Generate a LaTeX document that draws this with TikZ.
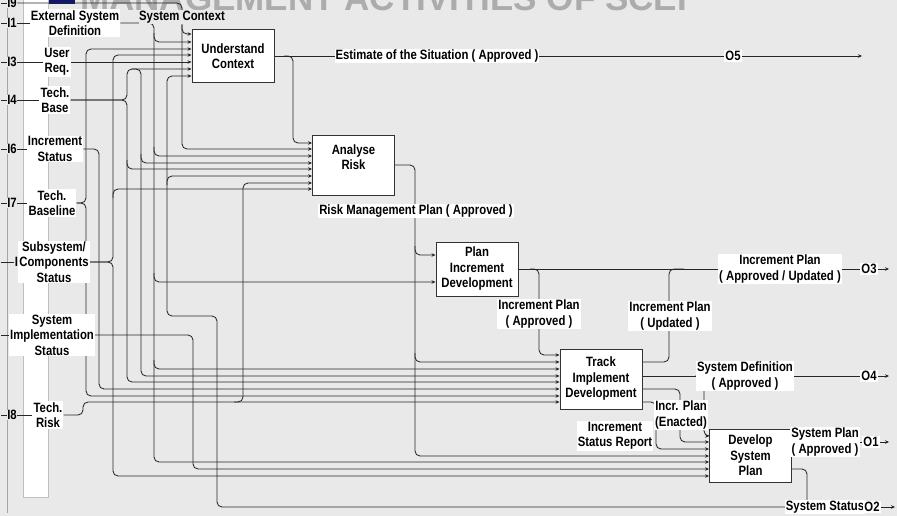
\documentclass[tikz,border=0pt]{standalone}
\usepackage{fontspec}
\setmainfont{Liberation Sans}[FakeStretch=0.84]
\newfontfamily\headfont{Liberation Sans}
\usetikzlibrary{arrows.meta, positioning, calc}
\definecolor{slideGris}{RGB}{233,233,233}
\definecolor{tituloGris}{RGB}{172,172,172}
\definecolor{tituloAzul}{RGB}{16,24,110}
\pgfdeclarelayer{fondo}
\pgfdeclarelayer{lineas}
\pgfsetlayers{fondo,lineas,main}

\begin{document}
\begin{tikzpicture}[x=1pt, y=-1pt,
        font=\bfseries\fontsize{13.5}{15.5}\selectfont,
        proc/.style={rectangle, draw=black!80, fill=white, line width=0.9pt, minimum width=82pt, align=center, inner sep=1pt},
        txt/.style={align=center, inner sep=1pt},
        etiq/.style={fill=white, align=center, inner sep=1pt},
        num/.style={fill=slideGris, inner sep=0.5pt},
        flujo/.style={draw=black!85, line width=0.85pt, rounded corners=5pt},
        flecha/.style={flujo, -{Stealth[length=4pt, width=3.5pt]}}]
    \useasboundingbox (0,0) rectangle (897,516);
    \begin{pgfonlayer}{fondo}
        \fill[slideGris] (0,0) rectangle (897,516);
        \node[anchor=base west, inner sep=0, text=tituloGris, font=\headfont\bfseries\fontsize{35}{35}\selectfont] (titulo) at (80,11) {MANAGEMENT ACTIVITIES OF SCEI};
        \fill[tituloAzul] (47,0) rectangle (75,4);
        \draw[gray!70, line width=1pt] (7,0) -- (7,513);
        \filldraw[fill=white, draw=gray!50] (23,-2) rectangle (48,497);
    \end{pgfonlayer}

    \node[num] (n9) at (12,3) {I9};
    \node[num] (n1) at (12,23) {I1};
    \node[num] (n3) at (12,62) {I3};
    \node[num] (n4) at (12,100) {I4};
    \node[num] (n6) at (12,149) {I6};
    \node[num] (n7) at (12,203) {I7};
    \node[num] (n5) at (19.5,262) {I5};
    \node[num] (n8) at (12,415) {I8};

    \node[etiq] (ext) at (75,23) {External System\\Definition};
    \node[etiq] (usr) at (57,62) {User\\Req.};
    \node[etiq] (tb) at (55,100) {Tech.\\Base};
    \node[etiq] (incs) at (55,149) {Increment\\Status};
    \node[etiq] (tbl) at (52,203) {Tech.\\Baseline};
    \node[etiq] (sub) at (54,262) {Subsystem/\\Components\\Status};
    \node[etiq] (sis) at (52,335) {System\\Implementation\\Status};
    \node[etiq] (tr) at (48,415) {Tech.\\Risk};
    \node[fill=slideGris, inner sep=0.5pt] (sctx) at (182,17) {System Context};

    \node[proc, minimum height=53pt] (uc) at (233,56) {Understand\\Context};
    \node[proc, minimum height=60pt] (ar) at (353.5,165) {};
    \node[txt, below=8.5pt of ar.north] (artxt) {Analyse\\Risk};
    \node[proc, minimum height=54pt] (pid) at (477,269) {Plan\\Increment\\Development};
    \node[proc, minimum height=60pt] (tid) at (601,379) {Track\\Implement\\Development};
    \node[proc, minimum height=53pt] (dsp) at (750.5,455.5) {Develop\\System\\Plan};

    \node[etiq] (est) at (437,56) {Estimate of the Situation ( Approved )};
    \node[etiq] (o5) at (733,56) {O5};
    \node[etiq] (rmp) at (416,211) {Risk Management Plan ( Approved )};
    \node[etiq] (ipa) at (539,314) {Increment Plan\\( Approved )};
    \node[etiq] (ipu) at (670,316) {Increment Plan\\( Updated )};
    \node[etiq] (ipau) at (780,269) {Increment Plan\\( Approved / Updated )};
    \node[etiq] (o3) at (869,269) {O3};
    \node[etiq] (sdef) at (745,376) {System Definition\\( Approved )};
    \node[etiq] (o4) at (869,376) {O4};
    \node[etiq] (ipe) at (681,415) {Incr. Plan\\(Enacted)};
    \node[etiq] (isr) at (615,436) {Increment\\Status Report};
    \node[etiq] (spa) at (825,442) {System Plan\\( Approved )};
    \node[etiq] (o1) at (871,442) {O1};
    \node[etiq] (ss) at (825,507) {System Status};
    \node[etiq] (o2) at (872,507) {O2};

    \foreach \k/\yy in {9/3,1/23,3/62,4/100,6/149,7/203,5/262,2/335,8/415}
        \coordinate (e\k) at (1,\yy);
    \foreach \k/\yy in {1/34,2/42,3/49,4/55,5/62,6/69,7/76}
        \coordinate (uc\k) at (uc.west |- 0,\yy);
    \foreach \k/\yy in {1/143,2/149,3/156,4/163,5/169,6/176,7/183,8/189}
        \coordinate (ar\k) at (ar.west |- 0,\yy);
    \foreach \k/\yy in {1/255,2/282}
        \coordinate (pid\k) at (pid.west |- 0,\yy);
    \foreach \k/\yy in {1/355,2/362,3/369,4/376,5/382,6/389,7/396,8/402}
        \coordinate (tid\k) at (tid.west |- 0,\yy);
    \foreach \k/\yy in {1/436,2/442,3/449,4/456,5/462,6/469,7/476}
        \coordinate (dsp\k) at (dsp.west |- 0,\yy);
    \foreach \k/\yy in {1/362,2/376,3/389,4/402}
        \coordinate (tido\k) at (tid.east |- 0,\yy);
    \coordinate (dspo1) at (dsp.east |- 0,442);
    \coordinate (dspo2) at (dsp.east |- 0,469);

    \coordinate (t9) at (182,0);
    \coordinate (t1) at (154,0);
    \coordinate (t4) at (127,0);
    \coordinate (t4b) at (141,0);
    \coordinate (t6) at (99,0);
    \coordinate (t7) at (86,0);
    \coordinate (t5) at (113,0);
    \coordinate (t2) at (193,0);
    \coordinate (t8) at (83,0);
    \coordinate (t8b) at (243,0);
    \coordinate (tl) at (167,0);
    \coordinate (ts) at (217,316);
    \coordinate (t0) at (293,0);
    \coordinate (tar) at (415,0);
    \coordinate (tpid) at (539,0);
    \coordinate (tsd) at (704,0);
    \coordinate (tenc) at (680,0);
    \coordinate (tisr) at (656,0);
    \coordinate (jo3) at (669,269);
    \coordinate (jo3r) at (684,269);
    \coordinate (ssj) at (807,508);
    \coordinate (o5f) at (862,56);
    \coordinate (o3f) at (889,269);
    \coordinate (o4f) at (889,376);
    \coordinate (o1f) at (889,442);
    \coordinate (o2f) at (895,507);

    \begin{pgfonlayer}{lineas}
        \draw[flujo] (e9) -- (n9);
        \draw[flecha] (n9.east) -| (t9 |- ar2) -- (ar2);
        \draw[flecha] ($(t9 |- uc1)+(0,-9)$) |- (uc1);
        \draw[flujo] (e1) -- (n1) -- (ext);
        \draw[flecha] (ext.east) -| (t1 |- dsp5) -- (dsp5);
        \foreach \p in {uc2,ar3,pid2,tid3} \draw[flecha] ($(t1 |- \p)+(0,-9)$) |- (\p);
        \draw[flujo] (e3) -- (n3) -- (usr);
        \draw[flecha] (usr) -- (uc5);
        \draw[flujo] (e4) -- (n4) -- (tb);
        \draw[flecha] (tb.east) -| (t4 |- uc6) -- (uc6);
        \draw[flecha] (tb.east) -| (t4 |- tid5) -- (tid5);
        \draw[flecha] ($(t4 |- ar5)+(0,-9)$) |- (ar5);
        \draw[flecha] ($(t4b |- uc6)+(-9,0)$) -| (t4b |- tid4) -- (tid4);
        \draw[flecha] ($(t4b |- ar4)+(0,-9)$) |- (ar4);
        \draw[flujo] (e6) -- (n6) -- (incs);
        \draw[flecha] (incs.east) -| (t6 |- tid6) -- (tid6);
        \draw[flujo] (e7) -- (n7) -- (tbl);
        \draw[flecha] (tbl.east) -| (t7 |- uc3) -- (uc3);
        \draw[flecha] (tbl.east) -| (t7 |- tid7) -- (tid7);
        \draw[flujo] (e5) -- (n5);
        \draw[flecha] (sub.east) -| (t5 |- uc4) -- (uc4);
        \draw[flecha] (sub.east) -| (t5 |- dsp7) -- (dsp7);
        \draw[flecha] ($(t5 |- ar8)+(0,9)$) |- (ar8);
        \draw[flujo] (e2) -- (sis);
        \draw[flecha] (sis.east) -| (t2 |- dsp6) -- (dsp6);
        \draw[flujo] (e8) -- (n8) -- (tr);
        \draw[flecha] (tr.east) -| (t8 |- tid8) -- (tid8);
        \draw[flecha] ($(t8b |- tid8)+(-9,0)$) -| (t8b |- ar7) -- (ar7);
        \draw[flecha] (o2.west) -| (ts) -| (tl |- uc7) -- (uc7);
        \draw[flecha] ($(tl |- ar6)+(0,9)$) |- (ar6);

        \draw[flecha] (uc.east) -- (o5f);
        \draw[flecha] ($(t0 |- uc.east)+(-9,0)$) -| (t0 |- ar1) -- (ar1);
        \draw[flecha] (ar.east) -| (tar |- dsp4) -- (dsp4);
        \foreach \p in {pid1,tid2} \draw[flecha] ($(tar |- \p)+(0,-9)$) |- (\p);
        \draw[flecha] (pid.east) -- (o3f);
        \draw[flecha] ($(tpid |- pid.east)+(-9,0)$) -| (tpid |- tid1) -- (tid1);
        \draw[flujo] (tido1) -| (jo3) -- (jo3r);
        \draw[flecha] (tido2) -- (o4f);
        \draw[flecha] ($(tsd |- tido2)+(-9,0)$) -| (tsd |- dsp1) -- (dsp1);
        \draw[flecha] (tido3) -| (tenc |- dsp2) -- (dsp2);
        \draw[flecha] (tido4) -| (tisr |- dsp3) -- (dsp3);
        \draw[flecha] (dspo1) -- (o1f);
        \draw[flujo] (dspo2) -| (ssj);
        \draw[flecha] (o2) -- (o2f);
    \end{pgfonlayer}
\end{tikzpicture}
\end{document}
